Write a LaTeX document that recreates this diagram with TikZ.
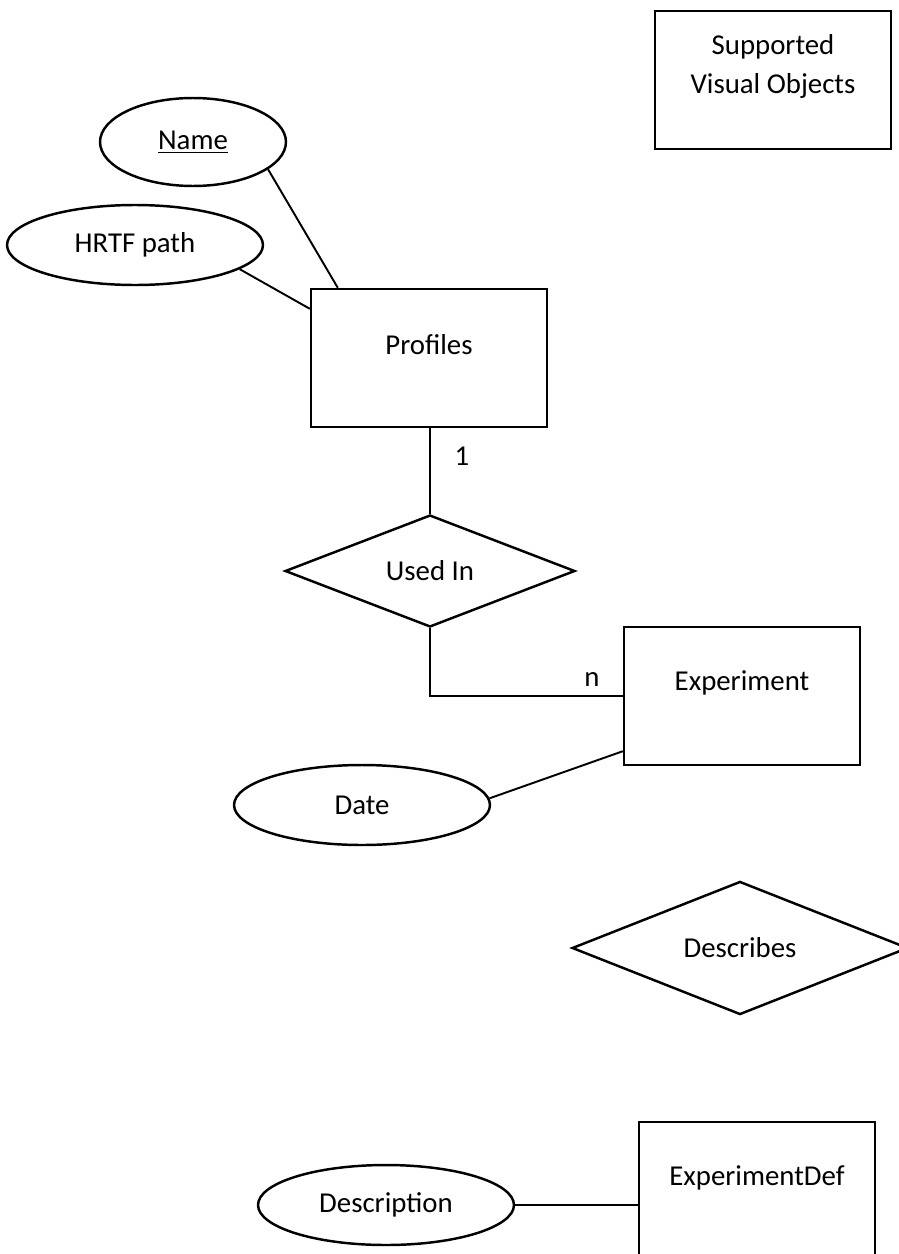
\documentclass[tikz,border=0pt]{standalone}
\usepackage{fontspec}
\setmainfont{Carlito}
\usetikzlibrary{shapes.geometric, calc}
\tikzset{
    x=0.02cm, y=-0.02cm,
    every node/.style={font=\fontsize{16.4}{22.7}\selectfont},
    entity/.style={draw, line width=1.4pt, minimum width=4.72cm,
        minimum height=2.76cm, inner sep=0pt},
    entitytext/.style={yshift=0.27cm, align=center},
    attrib/.style={draw, ellipse, line width=1.4pt, minimum width=5.12cm,
        minimum height=1.6cm, inner sep=0pt},
    relation/.style={draw, diamond, line width=1.4pt, inner sep=0pt},
    link/.style={line width=1.1pt},
}

\begin{document}
\begin{tikzpicture}
    \clip (0, 0) rectangle (899, 1254);
    % entities
    \node[entity, label={[entitytext]center:{Supported\\Visual Objects}}] (svo) at (773, 80) {};
    \node[entity, label={[entitytext]center:Profiles}] (prof) at (429, 358) {};
    \node[entity, label={[entitytext]center:Experiment}] (exp) at (742, 696) {};
    \node[entity, label={[entitytext]center:ExperimentDef}] (expdef) at (757, 1191) {};
    % attributes
    \node[attrib, minimum width=3.72cm, minimum height=1.76cm] (name) at (193, 142) {\underline{Name}};
    \node[attrib] (hrtf) at (135, 245) {HRTF path};
    \node[attrib] (date) at (362, 805) {Date};
    \node[attrib] (desc) at (386, 1205) {Description};
    % relations
    \node[relation, minimum width=5.8cm, minimum height=2.24cm] (used) at (430, 571) {Used In};
    \node[relation, minimum width=6.72cm, minimum height=2.26cm] (descr) at (740, 948) {Describes};
    \node (one) at (462, 456) {1};
    \node (many) at (592, 680) {n};
    \begin{scope}[every path/.style={link}]
        \draw (name.-20) -- ($(prof.north west)+(28, 0)$);
        \draw (hrtf.-13) -- ($(prof.north west)+(0, 21)$);
        \draw (prof.south -| used.north) -- (used.north);
        \draw (used.south) |- (exp.west);
        \draw (date.3) -- ($(exp.south west)+(0, -15)$);
        \draw (desc.east) -- (desc.east -| expdef.west);
    \end{scope}
\end{tikzpicture}
\end{document}
